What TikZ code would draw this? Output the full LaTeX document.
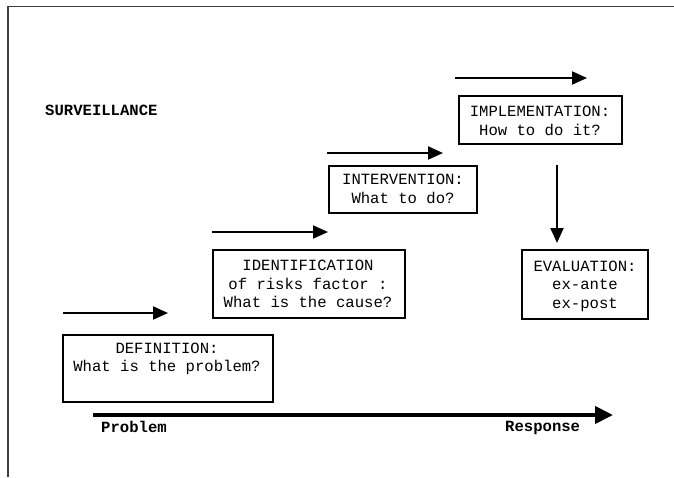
\documentclass[tikz,border=0pt]{standalone}
\usepackage{fontspec}
\setmonofont{Liberation Mono}
\usetikzlibrary{arrows.meta}
\begin{document}
\begin{tikzpicture}[x=1pt,y=-1pt,
  txt/.style={font=\ttfamily\fontsize{15.6}{18.5}\selectfont, inner sep=0pt, align=center},
  btxt/.style={font=\ttfamily\bfseries\fontsize{15.6}{18.5}\selectfont, inner sep=0pt, anchor=west},
  box/.style={draw, line width=1.3pt, inner sep=0pt},
  arr/.style={line width=2pt, -{Triangle[length=15pt,width=13pt]}},
  bigarr/.style={line width=4pt, -{Triangle[length=18pt,width=17pt]}},
]
\useasboundingbox (0,0) rectangle (674,477);
\draw[line width=1.5pt, black!75] (8,477) -- (8,6.5) -- (674,6.5);

% boxes
\node[box, minimum width=210pt, minimum height=67pt] (defbox) at (168,368.5) {};
\node[box, minimum width=192pt, minimum height=68pt] (idbox) at (309,284) {};
\node[box, minimum width=148pt, minimum height=47pt] (intbox) at (403,189.5) {};
\node[box, minimum width=163pt, minimum height=48pt] (impbox) at (540.5,120) {};
\node[box, line width=2.5pt, minimum width=126pt, minimum height=69pt] (evbox) at (585,284.5) {};

% texts
\node[btxt] (surv) at (45,110) {SURVEILLANCE};
\node[txt] (deftxt) at (167,359) {DEFINITION:\\What is the problem?};
\node[txt] (idtxt) at (308,284) {IDENTIFICATION\\of risks factor :\\What is the cause?};
\node[txt] (inttxt) at (403,189) {INTERVENTION:\\What to do?};
\node[txt] (imptxt) at (540,121) {IMPLEMENTATION:\\How to do it?};
\node[txt] (evtxt) at (585,286) {EVALUATION:\\ex-ante\\ex-post};
\node[btxt] (prob) at (101,427) {Problem};
\node[btxt] (resp) at (505,428) {Response};

% arrow coordinates
\coordinate (a1s) at (63,313);   \coordinate (a1e) at (168,313);
\coordinate (a2s) at (212,232);  \coordinate (a2e) at (328,232);
\coordinate (a3s) at (327,153);  \coordinate (a3e) at (443,153);
\coordinate (a4s) at (455,78);   \coordinate (a4e) at (587,78);
\coordinate (vs) at (557,165);   \coordinate (ve) at (557,243);
\coordinate (bs) at (93,415);    \coordinate (be) at (613,415);

\draw[arr] (a1s) -- (a1e);
\draw[arr] (a2s) -- (a2e);
\draw[arr] (a3s) -- (a3e);
\draw[arr] (a4s) -- (a4e);
\draw[arr] (vs) -- (ve);
\draw[bigarr] (bs) -- (be);
\end{tikzpicture}
\end{document}
